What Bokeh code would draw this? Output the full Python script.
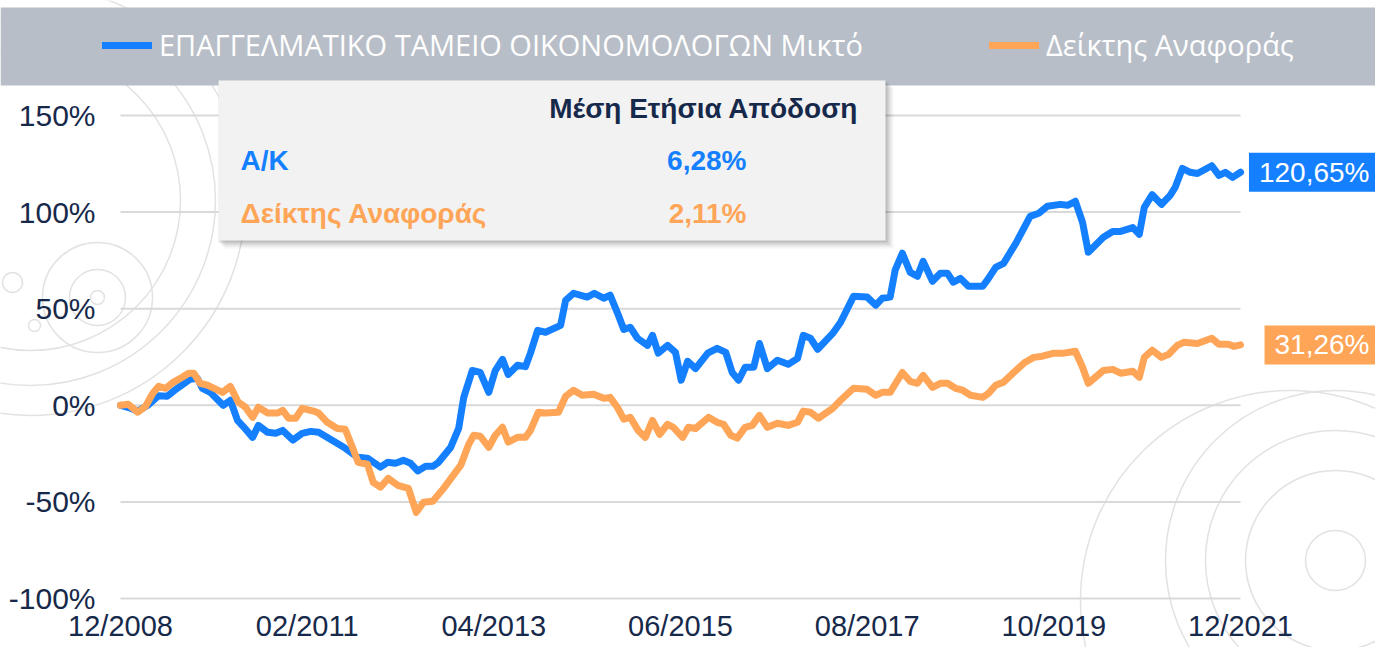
from bokeh.plotting import figure
from bokeh.models import (Range1d, FixedTicker, PrintfTickFormatter, Legend, LegendItem,
                          Label, BoxAnnotation)
from bokeh.embed import file_html
from bokeh.resources import INLINE

# ---------------- data (months after 12/2008, cumulative return %) ----------------
fund_months = [0.0, 1.4, 2.4, 3.8, 5.3, 6.5, 7.9, 9.7, 10.7, 11.4, 12.5, 14.3, 15.3, 16.3, 17.1,
               18.4, 19.2, 20.5, 21.6, 22.6, 24.0, 25.3, 26.5, 27.6, 31.1, 33.0, 34.4, 36.2,
               37.2, 38.3, 39.4, 40.4, 41.4, 42.5, 43.5, 44.3, 46.0, 47.1, 47.8, 49.0, 50.1,
               51.3, 52.2, 53.2, 54.0, 55.3, 56.4, 57.1, 58.1, 59.2, 61.3, 62.0, 63.1, 65.0,
               66.0, 67.3, 68.2, 69.2, 70.1, 71.0, 72.0, 73.4, 74.1, 74.9, 76.2, 77.3, 78.1,
               79.0, 80.1, 81.8, 83.1, 84.3, 85.2, 86.1, 87.0, 88.2, 89.0, 90.1, 91.5, 93.0,
               94.3, 95.1, 96.1, 97.1, 99.2, 100.3, 102.1, 104.0, 105.2, 106.1, 107.2, 107.9,
               108.9, 110.0, 111.0, 111.8, 113.1, 114.2, 115.2, 116.0, 117.0, 118.1, 120.1,
               120.9, 121.9, 123.0, 124.7, 126.7, 127.9, 129.1, 130.9, 131.9, 133.0, 134.0,
               134.8, 136.9, 138.2, 139.3, 141.0, 141.9, 142.6, 143.7, 145.0, 146.2, 146.9,
               147.9, 149.0, 150.0, 152.0, 153.0, 153.9, 154.9, 156.0]
fund_values = [0.0, -1.5, -3.0, 0.0, 5.0, 4.7, 8.8, 13.5, 14.0, 8.8, 6.7, 0.0, 2.6, -7.8, -11.0,
               -16.6, -10.4, -14.0, -14.5, -13.0, -18.0, -14.5, -13.5, -14.0, -21.7, -26.9,
               -27.4, -32.0, -29.5, -30.0, -28.5, -30.0, -34.0, -31.6, -31.6, -29.5, -21.7,
               -12.0, 4.0, 18.0, 17.0, 6.7, 18.0, 23.8, 16.0, 20.7, 20.0, 27.0, 38.8, 37.8,
               41.4, 54.3, 58.0, 56.0, 58.0, 55.4, 57.0, 48.0, 39.3, 40.4, 34.7, 31.0, 36.2,
               27.0, 31.0, 27.4, 13.0, 22.8, 19.0, 27.0, 29.5, 27.4, 17.0, 13.0, 19.7, 19.7,
               32.0, 19.0, 23.3, 21.2, 24.3, 36.2, 34.7, 29.0, 37.2, 43.0, 56.4, 56.0, 51.8,
               55.4, 56.0, 70.0, 78.7, 68.8, 66.8, 74.5, 64.2, 68.3, 68.3, 63.7, 65.7, 61.6,
               61.6, 65.7, 71.4, 73.5, 83.8, 97.8, 99.4, 103.0, 104.0, 103.5, 105.6, 94.7,
               79.2, 87.0, 90.0, 90.0, 92.0, 88.5, 102.5, 109.0, 104.0, 108.7, 112.8, 122.6,
               120.6, 120.0, 124.0, 119.0, 120.6, 118.0, 120.65]

bench_months = [0.0, 1.1, 2.4, 3.5, 4.5, 5.3, 6.3, 7.4, 8.6, 9.5, 10.2, 11.1, 12.1, 14.2, 15.3,
                16.4, 17.4, 18.4, 19.2, 20.5, 21.9, 22.6, 23.4, 24.4, 25.3, 26.9, 27.6, 28.8,
                30.2, 31.3, 32.3, 33.1, 34.4, 35.2, 36.2, 37.3, 38.6, 40.1, 41.2, 42.2, 43.5,
                45.0, 47.4, 48.5, 49.2, 50.1, 51.3, 52.2, 53.2, 54.0, 55.3, 56.4, 57.1, 58.2,
                59.2, 61.0, 62.0, 63.1, 64.3, 65.9, 67.3, 68.2, 69.2, 70.1, 71.0, 72.1, 73.1,
                74.1, 75.1, 76.2, 77.0, 78.3, 79.1, 80.1, 81.9, 83.1, 84.0, 85.0, 85.9, 87.0,
                88.0, 89.0, 90.1, 91.5, 93.0, 94.3, 95.1, 96.1, 97.2, 99.2, 100.3, 102.1, 104.0,
                105.2, 106.1, 107.2, 108.9, 110.0, 111.0, 111.8, 113.1, 114.2, 115.2, 116.3,
                117.3, 118.4, 120.1, 120.9, 121.9, 123.0, 124.7, 126.0, 127.2, 128.4, 129.9,
                131.2, 133.0, 134.0, 134.8, 136.9, 138.2, 139.3, 141.0, 141.9, 142.6, 143.7,
                145.0, 146.0, 147.2, 148.1, 150.0, 152.0, 153.0, 154.3, 155.1, 156.0]
bench_values = [0.0, 0.5, -3.6, -0.5, 6.2, 9.8, 8.8, 12.0, 14.5, 16.6, 16.6, 11.4, 10.4, 6.7, 9.8,
                1.6, -1.0, -6.2, -1.0, -4.0, -4.0, -2.6, -6.7, -6.7, -1.6, -3.0, -4.0, -8.8,
                -12.0, -12.4, -21.7, -29.5, -30.5, -39.9, -42.4, -37.8, -41.4, -43.0, -55.4,
                -50.2, -49.7, -43.0, -31.0, -20.2, -15.5, -16.0, -21.7, -15.5, -11.4, -19.0,
                -16.6, -16.6, -13.0, -3.6, -4.0, -3.6, 4.7, 7.8, 5.2, 5.7, 3.6, 4.1, -1.0,
                -7.2, -6.2, -13.0, -16.6, -7.8, -15.0, -9.8, -11.4, -16.6, -11.4, -12.0, -6.2,
                -8.8, -9.8, -15.5, -17.0, -11.4, -10.4, -5.2, -11.4, -9.3, -10.4, -8.8, -3.0,
                -3.6, -6.7, -1.6, 2.6, 8.8, 8.3, 5.2, 6.7, 6.7, 17.0, 12.4, 11.4, 15.5, 9.3,
                11.4, 11.4, 8.8, 7.8, 5.2, 4.1, 6.2, 10.4, 12.0, 18.0, 22.3, 24.8, 25.4, 26.9,
                26.9, 28.0, 19.7, 11.4, 18.0, 18.6, 16.6, 17.6, 14.5, 24.8, 28.5, 24.8, 26.4,
                31.0, 32.6, 32.0, 34.7, 31.6, 31.6, 30.5, 31.26]

x_tick_months = [0, 26, 52, 78, 104, 130, 156]
x_tick_labels = ["12/2008", "02/2011", "04/2013", "06/2015", "08/2017", "10/2019", "12/2021"]
y_ticks = [-100, -50, 0, 50, 100, 150]

series_names = ["ΕΠΑΓΓΕΛΜΑΤΙΚΟ ΤΑΜΕΙΟ ΟΙΚΟΝΟΜΟΛΟΓΩΝ Μικτό", "Δείκτης Αναφοράς"]
end_labels = ["120,65%", "31,26%"]
table_header = "Μέση Ετήσια Απόδοση"
table_rows = ["Α/Κ", "Δείκτης Αναφοράς"]
table_values = ["6,28%", "2,11%"]

# ---------------- styles / geometry ----------------
BLUE = "#1480FF"
ORANGE = "#FFA557"
BAND = "#B8BEC7"
NAVY = "#17294A"
GRID = "#D9D9D9"
DECO = "#E2E2E2"
FONT = "Liberation Sans"

W, H = 1375, 647
# plot area in pixels: month 0 -> x=120, month 156 -> x=1240 ; 150% -> y=115, -100% -> y=598
PX0, PX1 = 120, 1240
PY_TOP_TICK, PY_BOT_TICK = 115, 598
m_per_px = (x_tick_months[-1] - x_tick_months[0]) / (PX1 - PX0)
v_per_px = (y_ticks[-1] - y_ticks[0]) / (PY_BOT_TICK - PY_TOP_TICK)
x_start = x_tick_months[0] - PX0 * m_per_px
x_end = x_tick_months[-1] + (W - PX1) * m_per_px
y_top = y_ticks[-1] + PY_TOP_TICK * v_per_px
y_bot = y_ticks[0] - (H - PY_BOT_TICK) * v_per_px

def px_x(px):
    return x_start + px * m_per_px

def px_y(py):
    return y_top - py * v_per_px

p = figure(width=W, height=H, output_backend="svg", toolbar_location=None,
           x_range=Range1d(x_start, x_end), y_range=Range1d(y_bot, y_top),
           min_border=0, min_border_left=0, min_border_right=0,
           min_border_top=0, min_border_bottom=0)
p.outline_line_color = None
p.background_fill_color = "white"
p.border_fill_color = "white"
p.grid.visible = False

# faint decorative watermark rings (background artwork)
deco = [(97, 297, 56), (97, 297, 110), (97, 297, 14), (12, 282, 20), (34, 325, 12),
        (30, 200, 300), (30, 200, 370), (30, 200, 430),
        (1335, 560, 180), (1335, 560, 260), (1335, 560, 340), (1335, 560, 60),
        (1290, 600, 420)]
p.scatter(x=[px_x(d[0]) for d in deco], y=[px_y(d[1]) for d in deco], size=[d[2] for d in deco],
          marker="circle", fill_color=None, line_color=DECO, line_width=1.5, level="underlay")

# axes drawn inside the canvas at fixed positions
p.yaxis.fixed_location = x_tick_months[0]
p.xaxis.fixed_location = y_ticks[0]
p.yaxis.ticker = FixedTicker(ticks=y_ticks)
p.yaxis.formatter = PrintfTickFormatter(format="%d%%")
p.xaxis.ticker = FixedTicker(ticks=x_tick_months)
p.xaxis.major_label_overrides = {m: l for m, l in zip(x_tick_months, x_tick_labels)}
for ax in (p.xaxis, p.yaxis):
    ax.axis_line_color = None
    ax.major_tick_line_color = None
    ax.minor_tick_line_color = None
    ax.major_tick_out = 0
    ax.major_tick_in = 0
    ax.major_label_text_font = FONT
    ax.major_label_text_color = NAVY
p.yaxis.major_label_text_font_size = "30px"
p.xaxis.major_label_text_font_size = "29px"
p.yaxis.major_label_standoff = 25
p.xaxis.major_label_standoff = 11

# horizontal gridlines spanning the data period
p.segment(x0=x_tick_months[0], x1=x_tick_months[-1], y0=y_ticks, y1=y_ticks,
          line_color=GRID, line_width=2)

# legend band
p.add_layout(BoxAnnotation(left=0, right=W, top=7, bottom=85,
                           left_units="canvas", right_units="canvas",
                           top_units="canvas", bottom_units="canvas",
                           fill_color=BAND, fill_alpha=1, line_color=None, level="underlay"))

r_fund = p.line(fund_months, fund_values, line_color=BLUE, line_width=7,
                line_join="round", line_cap="round")
r_bench = p.line(bench_months, bench_values, line_color=ORANGE, line_width=7,
                 line_join="round", line_cap="round")

legend = Legend(items=[LegendItem(label=series_names[0], renderers=[r_fund]),
                       LegendItem(label=series_names[1], renderers=[r_bench])],
                orientation="horizontal", location=(102, H - 46 - 18))
legend.background_fill_alpha = 0
legend.border_line_color = None
legend.label_text_color = "white"
legend.label_text_font = "Open Sans"
legend.label_text_font_size = "29px"
legend.label_text_baseline = "middle"
legend.glyph_width = 50
legend.glyph_height = 36
legend.label_height = 36
legend.label_standoff = 7
legend.label_width = 830
legend.spacing = 0
legend.padding = 0
legend.margin = 0
p.add_layout(legend)

# end value labels
for xs, ys, txt, col in [(fund_months, fund_values, end_labels[0], BLUE),
                         (bench_months, bench_values, end_labels[1], ORANGE)]:
    p.add_layout(Label(x=xs[-1], y=ys[-1], x_offset=W + 4 - PX1, text=txt,
                       text_baseline="middle", text_align="right", text_color="white",
                       text_font=FONT, text_font_size="28px", background_fill_color=col,
                       padding=dict(left=10, right=10, top=4, bottom=4)))

# summary table box with soft shadow
BL, BR, BT, BB = 218, 885, 80, 240
for d, a in [(8, 0.04), (6, 0.06), (4, 0.08), (2, 0.10)]:
    p.add_layout(BoxAnnotation(left=BL + d - 2, right=BR + d, top=BT + d - 1, bottom=BB + d,
                               left_units="canvas", right_units="canvas",
                               top_units="canvas", bottom_units="canvas",
                               fill_color="black", fill_alpha=a, line_color=None))
p.add_layout(BoxAnnotation(left=BL, right=BR, top=BT, bottom=BB,
                           left_units="canvas", right_units="canvas",
                           top_units="canvas", bottom_units="canvas",
                           fill_color="#F2F2F2", fill_alpha=1, line_color=None))

def tlabel(x, y, txt, col, align):
    p.add_layout(Label(x=x, y=y, x_units="canvas", y_units="canvas", text=txt,
                       text_align=align, text_baseline="middle", text_color=col,
                       text_font=FONT, text_font_style="bold", text_font_size="28px"))

tlabel(858, 108, table_header, NAVY, "right")
tlabel(240, 160, table_rows[0], BLUE, "left")
tlabel(746, 160, table_values[0], BLUE, "right")
tlabel(240, 213, table_rows[1], ORANGE, "left")
tlabel(746, 213, table_values[1], ORANGE, "right")

open("out.html", "w").write(file_html(p, INLINE))
